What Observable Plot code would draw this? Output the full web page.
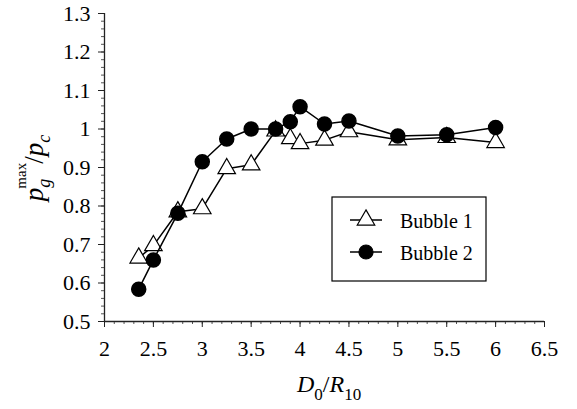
<!DOCTYPE html>
<html><head><meta charset="utf-8">
<script src="https://cdn.jsdelivr.net/npm/d3@7"></script>
<script src="https://cdn.jsdelivr.net/npm/@observablehq/plot@0.6"></script>
<style>body{margin:0;background:#fff} svg{display:block}
#chart svg, #chart svg text, #chart svg tspan { font-family: 'Liberation Serif', serif !important; }</style>
</head><body><div id="chart"></div>
<script>
// ---- data ----
const seriesNames = ["Bubble 1", "Bubble 2"];
const bubble1X = [2.35, 2.5, 2.75, 3.0, 3.25, 3.5, 3.75, 3.9, 4.0, 4.25, 4.5, 5.0, 5.5, 6.0];
const bubble1Y = [0.665, 0.697, 0.785, 0.793, 0.897, 0.907, 0.995, 0.975, 0.962, 0.971, 0.993, 0.972, 0.978, 0.965];
const bubble2X = [2.35, 2.5, 2.75, 3.0, 3.25, 3.5, 3.75, 3.9, 4.0, 4.25, 4.5, 5.0, 5.5, 6.0];
const bubble2Y = [0.584, 0.660, 0.781, 0.915, 0.974, 1.0, 1.0, 1.019, 1.058, 1.013, 1.021, 0.982, 0.985, 1.004];
const xTicks = [2, 2.5, 3, 3.5, 4, 4.5, 5, 5.5, 6, 6.5];
const yTicks = [0.5, 0.6, 0.7, 0.8, 0.9, 1.0, 1.1, 1.2, 1.3];
const xMinorTicks = d3.range(0, 46).map(i => 2 + i * 0.1);
const yMinorTicks = d3.range(0, 41).map(i => 0.5 + i * 0.02);

const data1 = bubble1X.map((x, i) => ({x, y: bubble1Y[i]}));
const data2 = bubble2X.map((x, i) => ({x, y: bubble2Y[i]}));

const FONT = "'Liberation Serif'";
const AX = "#222";
const fmt = d => `${+d.toFixed(2)}`;

const chart = Plot.plot({
  width: 577, height: 409,
  marginLeft: 104, marginRight: 33, marginTop: 13, marginBottom: 88,
  style: {fontFamily: FONT, fontSize: "22px", background: "#fff", color: "#000", overflow: "visible"},
  x: {domain: [2, 6.5]},
  y: {domain: [0.5, 1.3]},
  marks: [
    Plot.axisX({ticks: xMinorTicks, tickSize: 3, tickFormat: () => "", label: null, stroke: "#555"}),
    Plot.axisY({ticks: yMinorTicks, tickSize: 3, tickFormat: () => "", label: null, stroke: "#555"}),
    Plot.axisX({ticks: xTicks, tickSize: 6, tickPadding: 13, tickFormat: fmt, label: null, stroke: AX, fontFamily: FONT}),
    Plot.axisY({ticks: yTicks, tickSize: 6, tickPadding: 8, tickFormat: fmt, label: null, stroke: AX, fontFamily: FONT}),
    Plot.ruleY([0.5], {stroke: AX, strokeWidth: 1.3}),
    Plot.ruleX([2], {stroke: AX, strokeWidth: 1.3}),
    Plot.line(data1, {x: "x", y: "y", stroke: "black", strokeWidth: 1.5}),
    Plot.dot(data1, {x: "x", y: "y", symbol: "triangle", r: 6.5, fill: "white", stroke: "black", strokeWidth: 1.2}),
    Plot.line(data2, {x: "x", y: "y", stroke: "black", strokeWidth: 1.5}),
    Plot.dot(data2, {x: "x", y: "y", symbol: "circle", r: 7, fill: "black", stroke: "black"})
  ]
});
document.getElementById("chart").appendChild(chart);

// ---- axis titles and legend ----
const svg = d3.select(chart);

// x title: D0/R10
const xt = svg.append("text").attr("x", 297).attr("y", 392).attr("text-anchor", "start")
  .style("font-family", FONT).style("font-size", "24px").attr("fill", "black");
xt.append("tspan").style("font-style", "italic").text("D");
xt.append("tspan").style("font-size", "17px").attr("dy", 8).text("0");
xt.append("tspan").attr("dy", -8).text("/");
xt.append("tspan").style("font-style", "italic").text("R");
xt.append("tspan").style("font-size", "17px").attr("dy", 8).text("10");

// y title: p_g^max / p_c
const yg = svg.append("g").attr("transform", "translate(43,167) rotate(-90)");
const yt = yg.append("text").attr("x", 0).attr("y", 0).attr("text-anchor", "start")
  .style("font-family", FONT).style("font-size", "27px").attr("fill", "black");
yt.append("tspan").style("font-style", "italic").text("p");
const gSpan = yt.append("tspan").style("font-style", "italic").style("font-size", "18px").attr("dy", 7).text("g");
const gw = gSpan.node().getComputedTextLength();
yt.append("tspan").style("font-size", "15px").attr("dx", -gw - 1).attr("dy", -24).text("max");
yt.append("tspan").attr("dy", 17).attr("dx", -1).text("/");
yt.append("tspan").style("font-style", "italic").text("p");
yt.append("tspan").style("font-style", "italic").style("font-size", "18px").attr("dy", 7).text("c");
const bb = yt.node().getBBox();
yt.attr("x", -bb.width / 2);

// legend
const lg = svg.append("g");
lg.append("rect").attr("x", 332).attr("y", 197).attr("width", 154).attr("height", 84)
  .attr("fill", "white").attr("stroke", "black").attr("stroke-width", 1.2);
const legendRows = [
  {name: seriesNames[0], y: 220, sym: d3.symbolTriangle, r: 6.5, fill: "white"},
  {name: seriesNames[1], y: 252, sym: d3.symbolCircle, r: 7, fill: "black"}
];
legendRows.forEach(row => {
  lg.append("line").attr("x1", 350).attr("x2", 382).attr("y1", row.y).attr("y2", row.y)
    .attr("stroke", "black").attr("stroke-width", 1.5);
  lg.append("path").attr("d", d3.symbol(row.sym, Math.PI * row.r * row.r)())
    .attr("transform", `translate(366,${row.y})`)
    .attr("fill", row.fill).attr("stroke", "black").attr("stroke-width", 1.2);
  lg.append("text").attr("x", 400).attr("y", row.y + 8).attr("text-anchor", "start")
    .style("font-family", FONT).style("font-size", "20px").attr("fill", "black").text(row.name);
});
</script>
</body></html>
